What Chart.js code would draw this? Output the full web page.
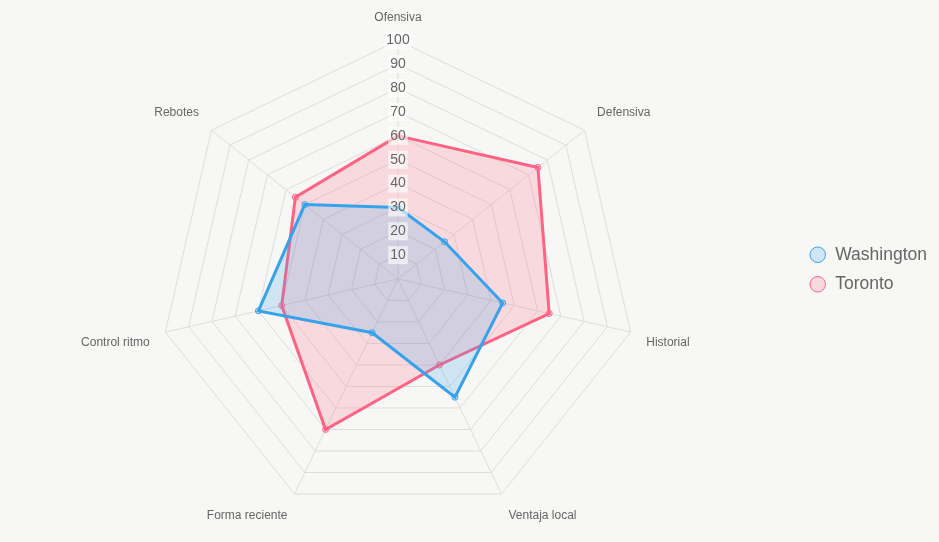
<!DOCTYPE html>
<html><head><meta charset="utf-8">
<script src="https://cdn.jsdelivr.net/npm/chart.js@4"></script>
<style>html,body{margin:0;padding:0;background:#f7f7f5;}#wrap{width:939px;height:542px;}</style>
</head><body><div id="wrap"><canvas id="c"></canvas></div>
<script>
const categories = ["Ofensiva","Defensiva","Historial","Ventaja local","Forma reciente","Control ritmo","Rebotes"];
const washington = [30,25,45,55,25,60,50];
const toronto = [60,75,65,40,70,50,55];
const tickStep = 10;

new Chart(document.getElementById('c'), {
  type: 'radar',
  data: {
    labels: categories,
    datasets: [
      {label:'Washington', data: washington, borderColor:'#36a2eb', backgroundColor:'rgba(54,162,235,0.2)', borderWidth:3, pointRadius:3, pointBorderWidth:1, pointBackgroundColor:'rgba(54,162,235,0.2)', pointBorderColor:'#36a2eb'},
      {label:'Toronto', data: toronto, borderColor:'#ff6384', backgroundColor:'rgba(255,99,132,0.2)', borderWidth:3, pointRadius:3, pointBorderWidth:1, pointBackgroundColor:'rgba(255,99,132,0.2)', pointBorderColor:'#ff6384'}
    ]
  },
  options: {
    responsive:true, maintainAspectRatio:false, animation:false,
    layout:{padding:{top:0,bottom:3,left:-1,right:2}},
    plugins:{
      legend:{position:'right', labels:{usePointStyle:true, pointStyle:'circle', boxWidth:17.5, boxHeight:11, font:{size:17.5, family:'Helvetica, Arial, sans-serif'}, color:'#666', padding:12}},
      tooltip:{enabled:false}
    },
    scales:{
      r:{
        min:0, max:100,
        ticks:{stepSize:tickStep, font:{size:14, family:'Helvetica, Arial, sans-serif'}, color:'#666', backdropColor:'rgba(255,255,255,0.6)', z:1},
        grid:{color:'#dddddd'},
        angleLines:{color:'#dddddd'},
        pointLabels:{padding:7, font:{size:12, family:'Helvetica, Arial, sans-serif'}, color:'#666'}
      }
    }
  }
});
</script></body></html>
